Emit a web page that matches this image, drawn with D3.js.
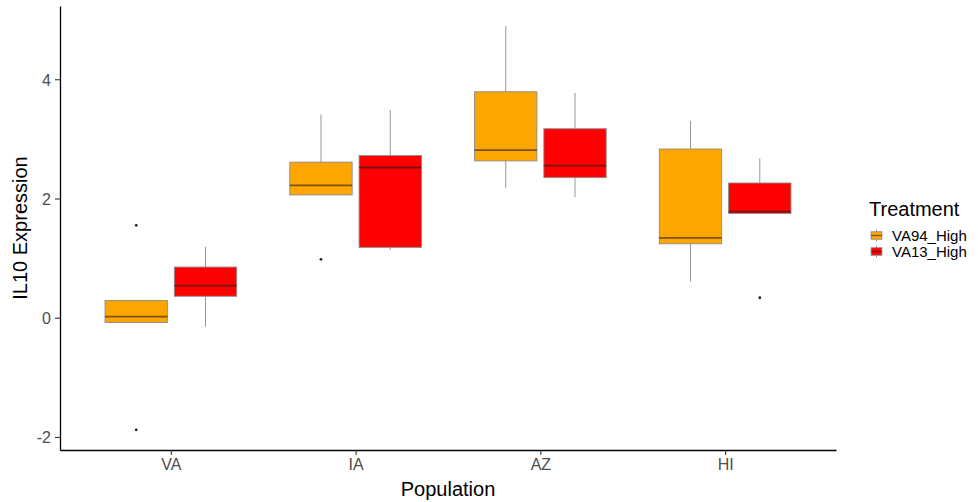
<!DOCTYPE html>
<html>
<head>
<meta charset="utf-8">
<script src="https://cdn.jsdelivr.net/npm/d3@7"></script>
<style>
  body { margin: 0; background: #fff; }
  svg text { font-family: "Liberation Sans", Arial, sans-serif; }
</style>
</head>
<body>
<div class="canva"></div>
<script>
// data
const populations = ["VA", "IA", "AZ", "HI"];
const treatments = ["VA94_High", "VA13_High"];
const fills = ["#FFA500", "#FF0000"];
const yTicks = [-2, 0, 2, 4];

// [lower whisker, q1, median, q3, upper whisker] per population
const va94Stats = [
  [-0.08, -0.08, 0.02, 0.29, 0.29],
  [2.06, 2.06, 2.22, 2.61, 3.41],
  [2.17, 2.63, 2.81, 3.79, 4.89],
  [0.61, 1.24, 1.34, 2.83, 3.30]
];
const va13Stats = [
  [-0.15, 0.36, 0.54, 0.85, 1.19],
  [1.14, 1.18, 2.52, 2.72, 3.48],
  [2.02, 2.35, 2.55, 3.17, 3.77],
  [1.75, 1.75, 1.78, 2.26, 2.67]
];
const va94Outliers = [[1.55, -1.88], [0.98], [], []];
const va13Outliers = [[], [], [], [0.335]];

const width = 978, height = 502;
const margin = { top: 6, right: 142, bottom: 52, left: 60 };

const svg = d3.select(".canva").append("svg")
  .attr("width", width).attr("height", height);

// one row per box
const boxes = [];
[va94Stats, va13Stats].forEach((stats, t) => {
  const outs = t === 0 ? va94Outliers : va13Outliers;
  stats.forEach((s, i) => {
    boxes.push({ pop: populations[i], t: t, lo: s[0], q1: s[1], med: s[2], q3: s[3], hi: s[4], out: outs[i] });
  });
});

const allVals = boxes.flatMap(b => [b.lo, b.hi].concat(b.out));
const yMin = d3.min(allVals), yMax = d3.max(allVals);
const pad = (yMax - yMin) * 0.05;

const x = d3.scalePoint().domain(populations)
  .range([margin.left, width - margin.right]).padding(0.6);
const y = d3.scaleLinear().domain([yMin - pad, yMax + pad])
  .range([height - margin.bottom, margin.top]);

const step = x.step();
const dodge = d3.scaleOrdinal().domain([0, 1]).range([-0.1875 * step, 0.1875 * step]);
const boxW = 0.3375 * step;

const g = svg.append("g");
const box = g.selectAll(".box").data(boxes).join("g").attr("class", "box");

// whiskers
box.append("line")
  .attr("x1", d => x(d.pop) + dodge(d.t)).attr("x2", d => x(d.pop) + dodge(d.t))
  .attr("y1", d => y(d.hi)).attr("y2", d => y(d.q3))
  .attr("stroke", "#8a8a8a").attr("stroke-width", 0.9);
box.append("line")
  .attr("x1", d => x(d.pop) + dodge(d.t)).attr("x2", d => x(d.pop) + dodge(d.t))
  .attr("y1", d => y(d.q1)).attr("y2", d => y(d.lo))
  .attr("stroke", "#8a8a8a").attr("stroke-width", 0.9);

box.append("rect")
  .attr("x", d => x(d.pop) + dodge(d.t) - boxW / 2)
  .attr("width", boxW)
  .attr("y", d => y(d.q3))
  .attr("height", d => y(d.q1) - y(d.q3))
  .attr("fill", d => fills[d.t])
  .attr("stroke", "#8c8c8c").attr("stroke-width", 0.9);

box.append("line")
  .attr("x1", d => x(d.pop) + dodge(d.t) - boxW / 2)
  .attr("x2", d => x(d.pop) + dodge(d.t) + boxW / 2)
  .attr("y1", d => y(d.med)).attr("y2", d => y(d.med))
  .attr("stroke", "rgba(30,30,30,0.6)").attr("stroke-width", 1.8);

box.selectAll("circle").data(d => d.out.map(v => ({ v: v, cx: x(d.pop) + dodge(d.t) })))
  .join("circle")
  .attr("cx", d => d.cx).attr("cy", d => y(d.v))
  .attr("r", 1.4).attr("fill", "#222");

// axes
const xAxis = svg.append("g")
  .attr("transform", `translate(0,${height - margin.bottom})`)
  .call(d3.axisBottom(x).tickSize(5).tickSizeOuter(0).tickPadding(4));
const yAxis = svg.append("g")
  .attr("transform", `translate(${margin.left},0)`)
  .call(d3.axisLeft(y).tickValues(yTicks).tickFormat(d => String(d))
    .tickSize(5).tickSizeOuter(0).tickPadding(4));

[xAxis, yAxis].forEach(a => {
  a.select(".domain").attr("stroke", "#000").attr("stroke-width", 1.3);
  a.selectAll(".tick line").attr("stroke", "#333").attr("stroke-width", 1.1);
  a.selectAll(".tick text").attr("fill", "#4D4D4D").attr("font-size", 16);
});
yAxis.selectAll(".tick text").attr("dy", "0.36em");

// axis titles
svg.append("text")
  .text("Population")
  .attr("x", (margin.left + width - margin.right) / 2)
  .attr("y", 496)
  .attr("text-anchor", "middle")
  .attr("font-size", 20)
  .attr("fill", "#000");

svg.append("text")
  .text("IL10 Expression")
  .attr("transform", `translate(27,${(margin.top + height - margin.bottom) / 2}) rotate(-90)`)
  .attr("text-anchor", "middle")
  .attr("font-size", 20)
  .attr("fill", "#000");

// legend
const legend = svg.append("g").attr("transform", "translate(869,0)");
legend.append("text")
  .text("Treatment")
  .attr("x", 0).attr("y", 216)
  .attr("font-size", 20).attr("fill", "#000");

const key = legend.selectAll(".key").data(treatments).join("g")
  .attr("class", "key")
  .attr("transform", (d, i) => `translate(0,${228 + i * 16})`);
const ks = 15;
key.append("line")
  .attr("x1", ks / 2).attr("x2", ks / 2).attr("y1", ks * 0.1).attr("y2", ks * 0.9)
  .attr("stroke", "#8a8a8a").attr("stroke-width", 0.9);
key.append("rect")
  .attr("x", ks * 0.14).attr("width", ks * 0.72)
  .attr("y", ks * 0.25).attr("height", ks * 0.5)
  .attr("fill", (d, i) => fills[i])
  .attr("stroke", "#8c8c8c").attr("stroke-width", 0.9);
key.append("line")
  .attr("x1", ks * 0.14).attr("x2", ks * 0.86).attr("y1", ks / 2).attr("y2", ks / 2)
  .attr("stroke", "rgba(30,30,30,0.6)").attr("stroke-width", 1.2);
key.append("text")
  .text(d => d)
  .attr("x", 23).attr("y", ks / 2)
  .attr("dy", "0.36em")
  .attr("font-size", 15).attr("fill", "#000");
</script>
</body>
</html>
